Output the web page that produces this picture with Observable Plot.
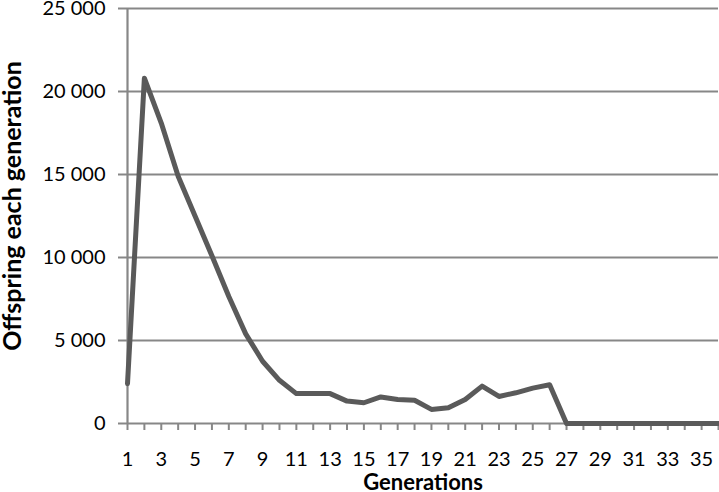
<!DOCTYPE html>
<html>
<head>
<meta charset="utf-8">
<script src="https://cdn.jsdelivr.net/npm/d3@7"></script>
<script src="https://cdn.jsdelivr.net/npm/@observablehq/plot@0.6"></script>
<style>
  html, body { margin: 0; padding: 0; background: #fff; }
  #chart svg { display: block; }
</style>
</head>
<body>
<div id="chart"></div>
<script>
const generations = d3.range(1, 37);
const offspring = [2400, 20800, 18100, 14900, 12500, 10100, 7650, 5400, 3750, 2600,
  1800, 1800, 1800, 1350, 1250, 1600, 1450, 1400, 850, 950,
  1450, 2250, 1630, 1850, 2130, 2330, 0, 0, 0, 0,
  0, 0, 0, 0, 0, 0];
const yTicks = [0, 5000, 10000, 15000, 20000, 25000];
const xTitle = "Generations";
const yTitle = "Offspring each generation";

const data = generations.map((g, i) => ({g, v: offspring[i]}));
const fmt = d => d === 0 ? "0" : d3.format(",")(d).replace(/,/g, " ");

const grid = "#878787";
const plot = Plot.plot({
  width: 719,
  height: 492,
  marginLeft: 127,
  marginRight: 1,
  marginTop: 8,
  marginBottom: 69,
  style: {fontFamily: "Lato, 'Open Sans', sans-serif", fontSize: "20px", color: "#000", background: "#fff", overflow: "visible"},
  x: {domain: [1, 36]},
  y: {domain: [0, 25000]},
  marks: [
    Plot.ruleY(yTicks, {stroke: grid, strokeWidth: 2.2}),
    Plot.ruleX([1], {stroke: grid, strokeWidth: 2.2}),
    Plot.axisX(generations, {tickSize: 7, stroke: grid, strokeWidth: 2, tickFormat: d => (d % 2 === 1 ? d : ""), tickPadding: 21, fontSize: 20, fill: "#000", label: null}),
    Plot.axisY(yTicks, {tickSize: 9, stroke: grid, strokeWidth: 2, tickFormat: fmt, tickPadding: 13, fontSize: 20, fill: "#000", label: null}),
    Plot.line(data, {x: "g", y: "v", stroke: "#5a5a5a", strokeWidth: 5, strokeLinejoin: "round"}),
    Plot.text([xTitle], {frameAnchor: "bottom", dy: 66, fontWeight: "bold", fontSize: 22, fill: "#000"}),
    Plot.text([yTitle], {frameAnchor: "left", textAnchor: "middle", dx: -115, dy: -10, rotate: -90, fontWeight: "bold", fontSize: 25, fill: "#000"})
  ]
});
document.getElementById("chart").appendChild(plot);
</script>
</body>
</html>
